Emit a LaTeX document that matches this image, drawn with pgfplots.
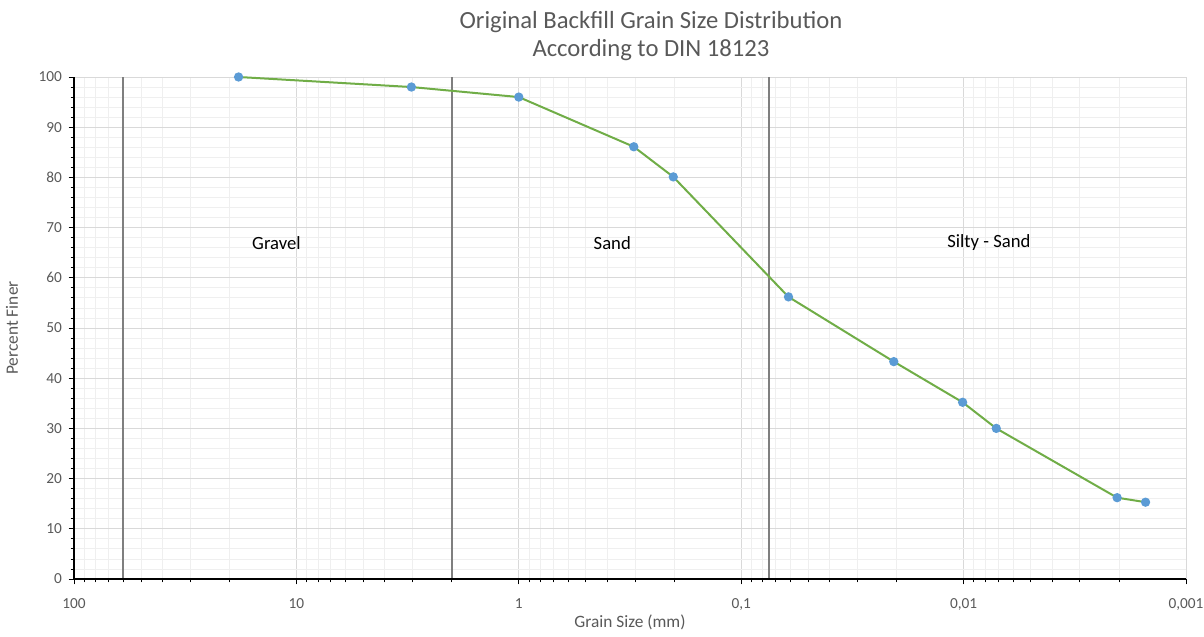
\documentclass[border=0pt]{standalone}
\usepackage{pgfplots}
\pgfplotsset{compat=1.18}
\usepackage{fontspec}
\setmainfont{Carlito}
\definecolor{txt}{HTML}{595959}
\definecolor{lgreen}{HTML}{70AD47}
\definecolor{mblue}{HTML}{5B9BD5}
\definecolor{vline}{HTML}{7F7F7F}
\definecolor{majgrid}{HTML}{D9D9D9}
\definecolor{mingrid}{HTML}{EFEFEF}
\begin{document}
\begin{tikzpicture}
\useasboundingbox (-55.5pt,-42.75pt) rectangle (847.5pt,434.25pt);
\begin{axis}[
  at={(0,0)}, anchor=south west,
  scale only axis, width=834pt, height=376.5pt,
  xmode=log, x dir=reverse,
  xmin=0.001, xmax=100, ymin=0, ymax=100,
  xtick={100,10,1,0.1,0.01,0.001},
  xticklabels={100,10,1,{0,1},{0,01},{0,001}},
  minor xtick={20,30,40,50,60,70,80,90,2,3,4,5,6,7,8,9,0.2,0.3,0.4,0.5,0.6,0.7,0.8,0.9,0.02,0.03,0.04,0.05,0.06,0.07,0.08,0.09,0.002,0.003,0.004,0.005,0.006,0.007,0.008,0.009},
  ytick={0,10,...,100},
  minor y tick num=4,
  grid=both,
  major grid style={majgrid, line width=0.6pt},
  minor grid style={mingrid, line width=0.6pt},
  axis line style={draw=none},
  tick align=outside,
  tick style={black, line width=0.6pt},
  major tick length=4pt, minor tick length=2.5pt,
  xtick pos=bottom, ytick pos=left,
  tick label style={font=\fontsize{11.5}{13}\selectfont, text=txt},
  xticklabel style={yshift=-7pt},
  yticklabel style={xshift=-1.5pt},
  /pgf/number format/assume math mode=true,
  clip=false,
]
\addplot[vline, line width=1.5pt] coordinates {(60,0) (60,100)};
\addplot[vline, line width=1.5pt] coordinates {(2,0) (2,100)};
\addplot[vline, line width=1.5pt] coordinates {(0.075,0) (0.075,100)};
\addplot[lgreen, line width=1.5pt, mark=*, mark size=2.7pt,
  mark options={draw=mblue, fill=mblue}] coordinates {
  (18.2,100) (3.04,98) (1.0,96) (0.304,86.1) (0.202,80.1)
  (0.0613,56.2) (0.0206,43.3) (0.0101,35.2) (0.00713,30.0)
  (0.00204,16.2) (0.00152,15.3)
};
\draw[black, line width=0.8pt] (rel axis cs:0,0) -- (rel axis cs:1,0);
\draw[black, line width=0.8pt] (rel axis cs:0,0) -- (rel axis cs:0,1);
\node[font=\fontsize{14}{16}\selectfont, text=black] at (axis cs:12.3,67) {Gravel};
\node[font=\fontsize{14}{16}\selectfont, text=black] at (axis cs:0.38,67) {Sand};
\node[font=\fontsize{14}{16}\selectfont, text=black] at (axis cs:0.0077,67) {Silty - Sand};
\end{axis}
\node[font=\fontsize{18.5}{21}\selectfont, text=txt, align=center] at (432.75pt,407.25pt)
  {Original Backfill Grain Size Distribution\\According to DIN 18123};
\node[font=\fontsize{13}{15}\selectfont, text=txt] at (417pt,-32.5pt) {Grain Size (mm)};
\node[font=\fontsize{13}{15}\selectfont, text=txt, rotate=90] at (-46.5pt,188.25pt) {Percent Finer};
\end{tikzpicture}
\end{document}
